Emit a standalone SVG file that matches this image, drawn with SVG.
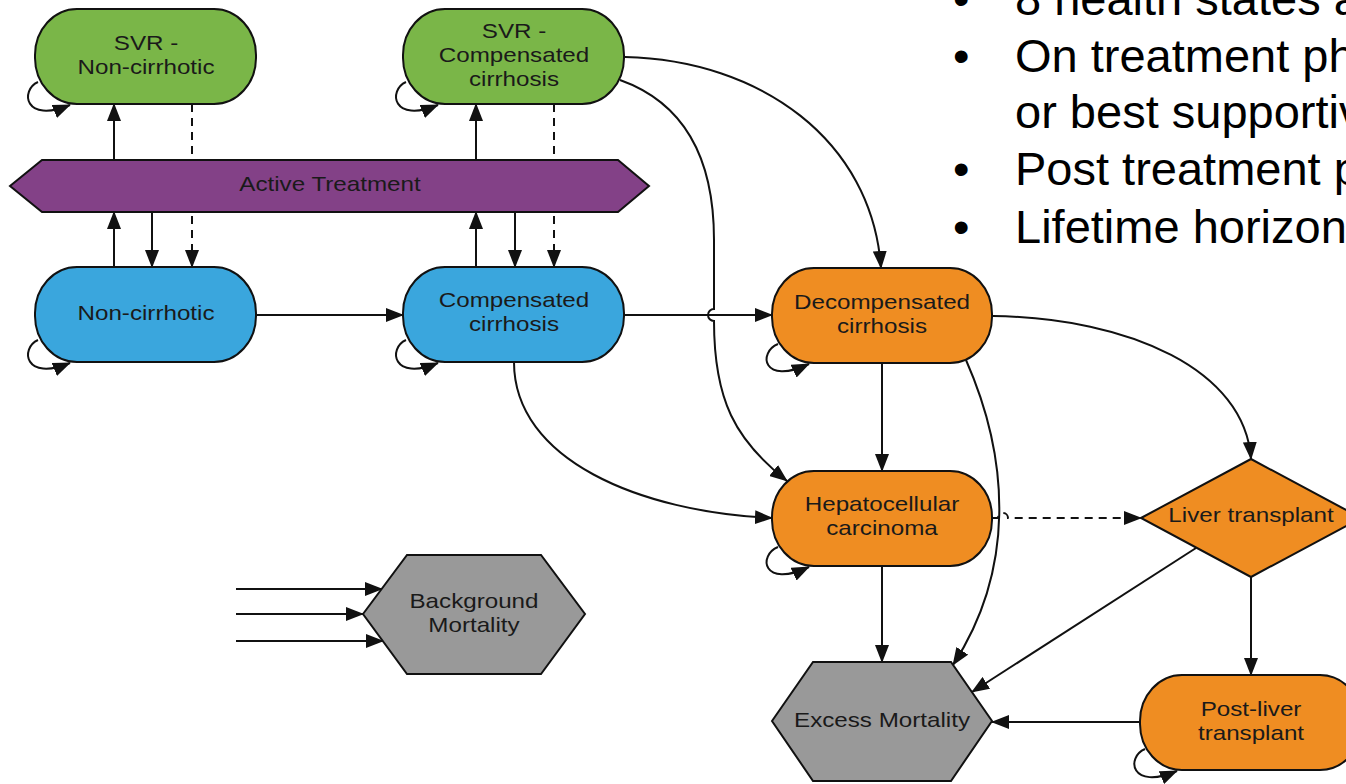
<svg xmlns="http://www.w3.org/2000/svg" width="1346" height="784" viewBox="0 0 1346 784">
<defs>
<style>
.c{fill:none;stroke:#111;stroke-width:2}
.d{fill:none;stroke:#111;stroke-width:2;stroke-dasharray:8 6}
.a{marker-end:url(#arr)}
.nd{stroke:#111;stroke-width:2}
.g{fill:#7ab648}.b{fill:#3aa6dd}.o{fill:#ef8d22}.p{fill:#834187}.gr{fill:#999999}
.t{font-family:"Liberation Sans",Arial,sans-serif;font-size:20.5px;fill:#1a1a1a;text-anchor:middle}
.bl{font-family:"Liberation Sans",Arial,sans-serif;font-size:47px;fill:#000}
</style>
<marker id="arr" markerWidth="18" markerHeight="14" refX="17" refY="7" orient="auto" markerUnits="userSpaceOnUse"><path d="M0,0 L18,7 L0,14 z" fill="#111"/></marker>
</defs>
<rect width="1346" height="784" fill="#fff"/>
<g id="connectors">
<path class="c a" d="M38 82 C20 90 24 124 70 105"/>
<path class="c a" d="M406 82 C388 90 392 124 438 105"/>
<path class="c a" d="M38 340 C20 348 24 382 70 363"/>
<path class="c a" d="M406 340 C388 348 392 382 438 363"/>
<path class="c a" d="M778 344 C758 352 762 386 809 364"/>
<path class="c a" d="M778 547 C758 555 762 589 809 567"/>
<path class="c a" d="M1145 749 C1126 757 1130 791 1177 771"/>
<path class="c a" d="M114 267 L114 212"/>
<path class="c a" d="M114 160 L114 104"/>
<path class="c a" d="M152 212 L152 267"/>
<path class="d a" d="M192 104 L192 267"/>
<path class="c a" d="M476 267 L476 212"/>
<path class="c a" d="M476 160 L476 104"/>
<path class="c a" d="M515 212 L515 267"/>
<path class="d a" d="M554 104 L554 267"/>
<path class="c a" d="M256 315 L403 315"/>
<path class="c a" d="M624 315 L772 315"/>
<path class="c a" d="M625 57 C760 60 872 140 881 268"/>
<path class="c a" d="M620 80 C690 105 714 165 714 240 L714 309 A6 6 0 0 0 714 321 C714 400 735 440 787 481"/>
<path class="c a" d="M514 362 C514 460 640 512 772 518"/>
<path class="c a" d="M882 363 L882 471"/>
<path class="c a" d="M993 316 C1130 318 1245 370 1251 459"/>
<path class="c a" d="M966 360 C1010 460 1015 570 953 665"/>
<path class="d a" d="M992 518 L998 518 A5 5 0 0 1 1008 518 L1141 518"/>
<path class="c a" d="M882 566 L882 662"/>
<path class="c a" d="M1196 548 L972 692"/>
<path class="c a" d="M1251 577 L1251 675"/>
<path class="c a" d="M1140 722 L992 722"/>
<path class="c a" d="M236 589 L382 589"/>
<path class="c a" d="M236 614 L363 614"/>
<path class="c a" d="M236 641 L383 641"/>
</g>
<g id="svr-non-cirrhotic">
<rect class="nd g" x="35" y="9" width="221" height="95" rx="42" ry="46"/>
<text class="t" transform="translate(146,0) scale(1.18,1)"><tspan x="0" y="50">SVR -</tspan><tspan x="0" y="74">Non-cirrhotic</tspan></text>
</g>
<g id="svr-compensated">
<rect class="nd g" x="403" y="9" width="221" height="95" rx="42" ry="46"/>
<text class="t" transform="translate(514,0) scale(1.18,1)"><tspan x="0" y="38">SVR -</tspan><tspan x="0" y="62">Compensated</tspan><tspan x="0" y="86">cirrhosis</tspan></text>
</g>
<g id="active-treatment">
<polygon class="nd p" points="10,186 42,160 618,160 649,186 618,212 42,212"/>
<text class="t" transform="translate(330,0) scale(1.18,1)"><tspan x="0" y="191">Active Treatment</tspan></text>
</g>
<g id="non-cirrhotic">
<rect class="nd b" x="35" y="267" width="221" height="95" rx="42" ry="46"/>
<text class="t" transform="translate(146,0) scale(1.18,1)"><tspan x="0" y="320">Non-cirrhotic</tspan></text>
</g>
<g id="compensated">
<rect class="nd b" x="403" y="267" width="221" height="95" rx="42" ry="46"/>
<text class="t" transform="translate(514,0) scale(1.18,1)"><tspan x="0" y="307">Compensated</tspan><tspan x="0" y="331">cirrhosis</tspan></text>
</g>
<g id="decompensated">
<rect class="nd o" x="772" y="268" width="220" height="95" rx="42" ry="46"/>
<text class="t" transform="translate(882,0) scale(1.18,1)"><tspan x="0" y="309">Decompensated</tspan><tspan x="0" y="333">cirrhosis</tspan></text>
</g>
<g id="hcc">
<rect class="nd o" x="772" y="471" width="220" height="95" rx="42" ry="46"/>
<text class="t" transform="translate(882,0) scale(1.18,1)"><tspan x="0" y="511">Hepatocellular</tspan><tspan x="0" y="535">carcinoma</tspan></text>
</g>
<g id="liver-transplant">
<polygon class="nd o" points="1141,518 1251,459 1361,518 1251,577"/>
<text class="t" transform="translate(1251,0) scale(1.18,1)"><tspan x="0" y="522">Liver transplant</tspan></text>
</g>
<g id="post-liver-transplant">
<rect class="nd o" x="1140" y="675" width="222" height="95" rx="42" ry="46"/>
<text class="t" transform="translate(1251,0) scale(1.18,1)"><tspan x="0" y="716">Post-liver</tspan><tspan x="0" y="740">transplant</tspan></text>
</g>
<g id="excess-mortality">
<polygon class="nd gr" points="772,721 813,662 951,662 992,721 951,781 813,781"/>
<text class="t" transform="translate(882,0) scale(1.18,1)"><tspan x="0" y="727">Excess Mortality</tspan></text>
</g>
<g id="background-mortality">
<polygon class="nd gr" points="363,614 407,555 541,555 585,614 541,674 407,674"/>
<text class="t" transform="translate(474,0) scale(1.18,1)"><tspan x="0" y="608">Background</tspan><tspan x="0" y="632">Mortality</tspan></text>
</g>
<g id="bullets">
<text class="bl" x="953" y="15">•</text><text class="bl" x="1015" y="15">8 health states a</text>
<text class="bl" x="953" y="72">•</text><text class="bl" x="1015" y="72">On treatment ph</text>
<text class="bl" x="1015" y="128">or best supportiv</text>
<text class="bl" x="953" y="185">•</text><text class="bl" x="1015" y="185">Post treatment p</text>
<text class="bl" x="953" y="243">•</text><text class="bl" x="1015" y="243">Lifetime horizon</text>
</g>
</svg>
